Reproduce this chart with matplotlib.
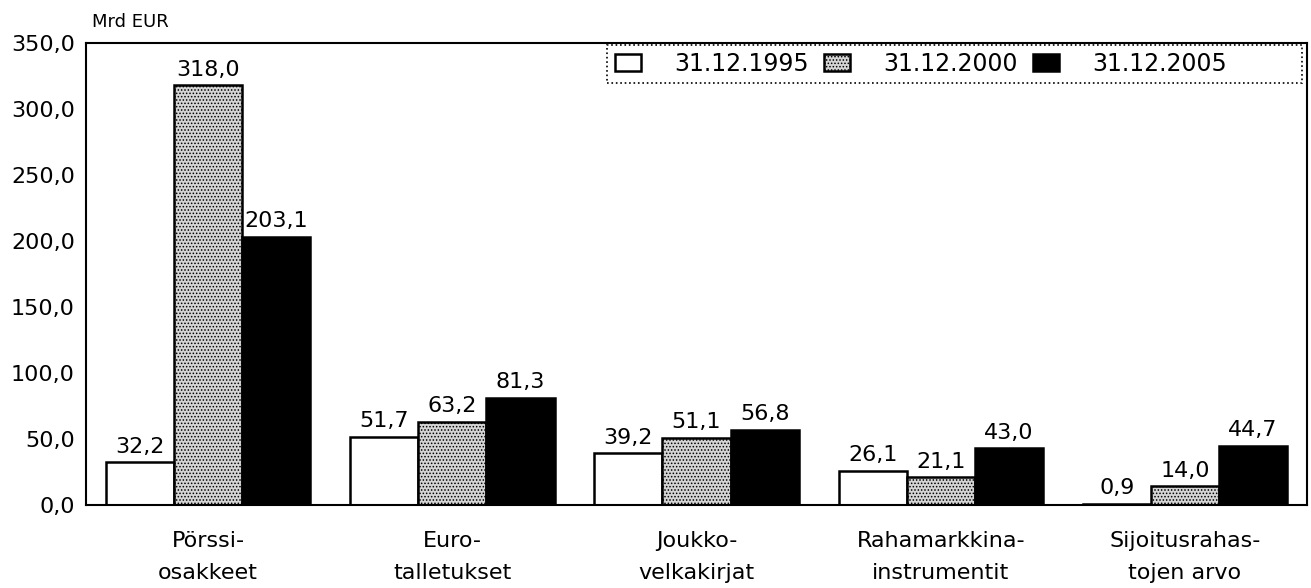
import numpy as np
import matplotlib
matplotlib.use('Agg')
import matplotlib.pyplot as plt
from matplotlib.patches import Rectangle

plt.rcParams['font.family'] = ['DejaVu Sans']
plt.rcParams['hatch.linewidth'] = 0.7

categories = ["Pörssi-\nosakkeet", "Euro-\ntalletukset", "Joukko-\nvelkakirjat",
              "Rahamarkkina-\ninstrumentit", "Sijoitusrahas-\ntojen arvo"]
series = ["31.12.1995", "31.12.2000", "31.12.2005"]
v1995 = [32.2, 51.7, 39.2, 26.1, 0.9]
v2000 = [318.0, 63.2, 51.1, 21.1, 14.0]
v2005 = [203.1, 81.3, 56.8, 43.0, 44.7]

fig = plt.figure(figsize=(13.11, 5.88), dpi=100)
ax = fig.add_axes([0.0656, 0.1412, 0.9314, 0.7857])

x = np.arange(len(categories))
w = 0.279
styles = [dict(facecolor='white', edgecolor='black'),
          dict(facecolor='#d4d4d4', edgecolor='black', hatch='.....'),
          dict(facecolor='black', edgecolor='black')]
for i, (vals, name) in enumerate(zip([v1995, v2000, v2005], series)):
    bars = ax.bar(x + (i - 1) * w, vals, w, label=name, linewidth=1.8, **styles[i])
    for b, v in zip(bars, vals):
        ax.annotate(f"{v:.1f}".replace('.', ','), (b.get_x() + b.get_width() / 2, v),
                    xytext=(0, 4), textcoords='offset points',
                    ha='center', va='bottom', fontsize=16)

ax.set_xlim(-0.5, len(categories) - 0.5)
ax.set_ylim(0, 350)
ticks = np.arange(0, 351, 50)
ax.set_yticks(ticks)
ax.set_yticklabels([f"{t:.1f}".replace('.', ',') for t in ticks], fontsize=16)
ax.set_xticks(x)
ax.set_xticklabels(categories, fontsize=16, linespacing=1.75)
ax.tick_params(axis='x', length=0, pad=19)
ax.tick_params(axis='y', length=0, pad=8)
for s in ax.spines.values():
    s.set_linewidth(1.5)

fig.text(0.070, 0.962, "Mrd EUR", fontsize=13, ha='left', va='center')

# dotted legend box, wider than its contents like the original
ax.add_patch(Rectangle((0.4267, 0.9134), 0.5692, 0.0823, transform=ax.transAxes,
                       fill=False, edgecolor='black', linestyle=':', linewidth=1.2,
                       zorder=5))
leg = ax.legend(loc='center left', ncol=3, fontsize=17, frameon=False,
                bbox_to_anchor=(0.4267, 0.9545), borderaxespad=0, handlelength=1.1,
                handleheight=0.7, handletextpad=1.4, columnspacing=0.65, borderpad=0.35)

fig.savefig("out.png", dpi=100)
